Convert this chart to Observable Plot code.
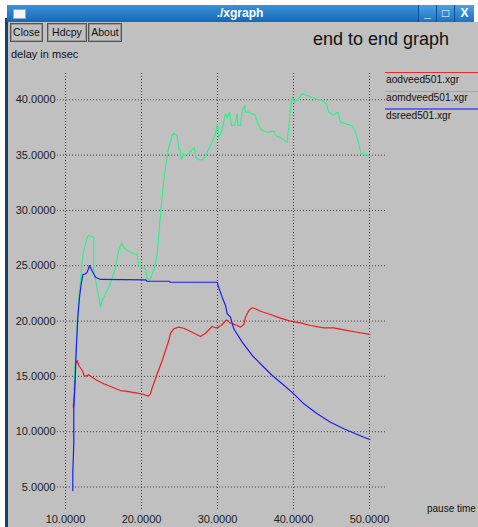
<!DOCTYPE html>
<html>
<head>
<meta charset="utf-8">
<script src="https://cdn.jsdelivr.net/npm/d3@7"></script>
<script src="https://cdn.jsdelivr.net/npm/@observablehq/plot@0.6"></script>
<style>
  html, body { margin:0; padding:0; background:#fff; }
  #win { position:relative; width:478px; height:527px; overflow:hidden; background:#fff;
         font-family:"Liberation Sans", Arial, sans-serif; }
  #client { position:absolute; left:8px; top:22px; width:470px; height:505px; background:#c0c0c0; }
  #lborder { position:absolute; left:5px; top:18px; width:3px; height:509px; background:#1b3f6e; }
  #titlebar { position:absolute; left:7px; top:5px; width:466px; height:17px;
              background:linear-gradient(#3b92d8, #1469b8); }
  #titlebar .t { position:absolute; left:0; width:100%; top:1px; text-align:center; color:#fff;
                 font-weight:bold; font-size:12px; }
  #titlebar .icon { position:absolute; left:6px; top:4px; width:11px; height:8px; background:#f4f4f4; border:1px solid #9ab; }
  .wb { position:absolute; top:0; width:17px; height:17px; background:linear-gradient(#4aa0e2,#1b74c2);
        border-left:1px solid #0d4f90; color:#fff; font-weight:bold; font-size:12px; text-align:center; line-height:17px; }
  .btn { position:absolute; top:23px; height:17px; border:1px solid #555; box-shadow: inset 0 0 0 1px #9a9a9a;
         background:#c0c0c0; font-size:10.5px; color:#111; line-height:17px; text-align:center; }
  .lbl { position:absolute; font-size:11px; color:#111; white-space:nowrap; }
  .leglbl { position:absolute; font-size:10.2px; color:#111; white-space:nowrap; }
  #plot { position:absolute; left:0; top:0; }
  .leg { position:absolute; left:385px; width:93px; height:0; }
</style>
</head>
<body>
<div id="win">
  <div id="client"></div>
  <div id="lborder"></div>
  <div id="titlebar">
    <div class="icon"></div>
    <div class="t">./xgraph</div>
    <div class="wb" style="left:411px">_</div>
    <div class="wb" style="left:429px">&#9633;</div>
    <div class="wb" style="left:447px;width:19px">X</div>
  </div>
  <div class="btn" style="left:10px;width:31px">Close</div>
  <div class="btn" style="left:47px;width:38px">Hdcpy</div>
  <div class="btn" style="left:88px;width:32px">About</div>
  <div class="lbl" style="left:313px;top:29px;font-size:18px;color:#111">end to end graph</div>
  <div class="lbl" style="left:11px;top:48px">delay in msec</div>
  <div class="lbl" style="left:427px;top:503px;font-size:10px">pause time</div>
  <div id="plot"></div>
  <div class="leg" style="top:72px;border-top:1px solid #e03030"></div>
  <div class="leglbl" style="left:386px;top:74px">aodveed501.xgr</div>
  <div class="leg" style="top:91px;border-top:1px solid #40e090"></div>
  <div class="leglbl" style="left:386px;top:92px">aomdveed501.xgr</div>
  <div class="leg" style="top:108px;border-top:2px solid #6666e0"></div>
  <div class="leglbl" style="left:386px;top:110px">dsreed501.xgr</div>
</div>
<script>
// Tick values
const xTicks = [10, 20, 30, 40, 50];
const yTicks = [5, 10, 15, 20, 25, 30, 35, 40];

// Series names
const seriesNames = ["aodveed501.xgr", "aomdveed501.xgr", "dsreed501.xgr"];

// aodveed501 (red)
const aodX = [11.01,11.18,11.32,11.54,11.75,12.20,12.50,13.07,13.51,14.17,15.04,15.92,17.24,17.89,19.43,20.30,20.88,21.18,21.41,22.07,22.72,23.16,23.59,23.82,24.25,24.91,25.57,26.67,27.76,28.42,29.30,29.74,30.17,30.62,31.18,31.71,32.37,33.03,33.46,33.68,34.12,34.57,35.00,35.66,36.97,38.29,39.61,40.92,42.24,43.99,45.30,46.62,48.38,50.04];
const aodY = [12.21,13.42,16.14,16.43,15.98,15.53,14.99,15.14,14.93,14.63,14.33,14.08,13.72,13.66,13.48,13.36,13.21,13.42,13.97,15.23,16.43,17.34,18.24,18.90,19.30,19.45,19.35,18.99,18.60,18.90,19.51,19.39,19.45,19.69,20.11,19.81,19.66,19.45,19.69,20.35,20.95,21.20,21.11,20.89,20.59,20.26,19.99,19.84,19.60,19.39,19.39,19.21,18.99,18.79];

// aomdveed501 (green)
const aomX = [11.05,11.32,11.58,11.84,12.20,12.41,12.86,13.07,13.72,13.72,14.38,14.61,14.83,15.26,15.70,16.14,16.58,17.01,17.37,17.67,18.12,18.55,18.99,19.43,19.64,20.13,20.53,20.75,21.09,21.62,22.07,22.50,22.93,23.29,23.59,24.04,24.25,24.70,24.91,25.13,25.22,25.49,26.01,26.45,26.97,27.11,27.54,27.99,28.29,28.86,29.30,29.74,29.96,30.17,30.49,30.75,31.05,31.28,31.58,31.84,32.24,32.59,32.67,33.03,33.25,33.55,33.68,34.12,35.00,35.22,35.66,36.09,36.62,37.41,37.63,38.29,39.17,39.38,39.61,39.83,40.13,40.49,41.14,41.80,42.89,43.78,44.34,44.64,45.09,45.53,45.83,46.18,46.84,47.72,48.16,48.59,48.91,49.25,49.91];
const aomY = [13.72,16.43,20.05,22.76,25.47,26.38,27.58,27.73,27.58,24.57,22.16,21.25,21.86,22.49,23.06,23.85,24.87,26.38,27.04,26.68,26.38,26.22,26.08,26.02,25.02,24.87,24.72,23.82,23.73,24.57,26.08,29.70,32.71,34.51,35.72,36.77,36.98,36.77,35.57,35.42,34.60,34.97,35.06,35.35,35.66,34.81,34.58,34.58,34.76,35.57,36.17,36.93,37.83,36.62,37.07,37.83,38.73,38.37,38.88,37.68,37.68,38.73,37.68,37.68,39.03,39.48,38.88,38.88,38.58,37.98,37.38,37.16,37.07,37.16,36.77,36.57,36.17,37.52,39.33,40.24,39.78,40.00,40.54,40.39,40.09,39.94,39.64,38.88,38.64,38.73,38.88,37.98,37.83,37.68,37.07,36.02,35.12,35.06,34.97];

// dsreed501 (blue)
const dsX = [10.96,10.96,11.09,11.09,11.28,11.41,11.62,11.84,12.07,12.28,12.63,12.86,13.16,13.51,13.95,14.61,20.53,20.75,23.59,23.82,29.96,30.17,30.62,31.05,31.28,31.71,32.14,33.25,34.57,35.88,37.20,38.51,40.04,41.36,43.12,44.87,46.62,48.38,50.04];
const dsY = [4.68,6.34,8.91,11.92,14.93,17.34,20.35,22.16,23.37,24.21,24.27,24.42,25.02,24.52,23.96,23.76,23.73,23.60,23.60,23.51,23.51,23.01,22.16,21.41,20.66,20.35,19.30,18.09,16.89,15.98,15.08,14.33,13.42,12.52,11.62,10.86,10.26,9.75,9.29];

const colors = ["#f21c1c", "#2ff08a", "#1c1cf0"];

const table = [];
[[aodX, aodY], [aomX, aomY], [dsX, dsY]].forEach(([xs, ys], i) => {
  xs.forEach((x, j) => table.push({series: seriesNames[i], x, y: ys[j]}));
});

const fmt = d => d.toFixed(4);

const chart = Plot.plot({
  width: 478,
  height: 527,
  marginLeft: 57,
  marginRight: 93,
  marginTop: 73,
  marginBottom: 17,
  style: {background: "transparent", fontFamily: "'Liberation Sans', Arial, sans-serif", fontSize: "11px", color: "#222"},
  x: {domain: [8.947, 52.105]},
  y: {domain: [2.876, 42.377]},
  color: {domain: seriesNames, range: colors},
  marks: [
    Plot.ruleX(xTicks, {stroke: "#222", strokeDasharray: "1,2", strokeOpacity: 0.8}),
    Plot.ruleY(yTicks, {stroke: "#222", strokeDasharray: "1,2", strokeOpacity: 0.8}),
    Plot.axisX(xTicks, {tickSize: 0, tickPadding: 5, tickFormat: fmt, fontSize: 11, fill: "#222", label: null}),
    Plot.axisY(yTicks, {tickSize: 0, tickPadding: 2, tickFormat: fmt, fontSize: 11, fill: "#222", label: null}),
    Plot.line(table, {x: "x", y: "y", z: "series", stroke: "series", strokeWidth: 1.2})
  ]
});
document.getElementById("plot").appendChild(chart);
</script>
</body>
</html>
